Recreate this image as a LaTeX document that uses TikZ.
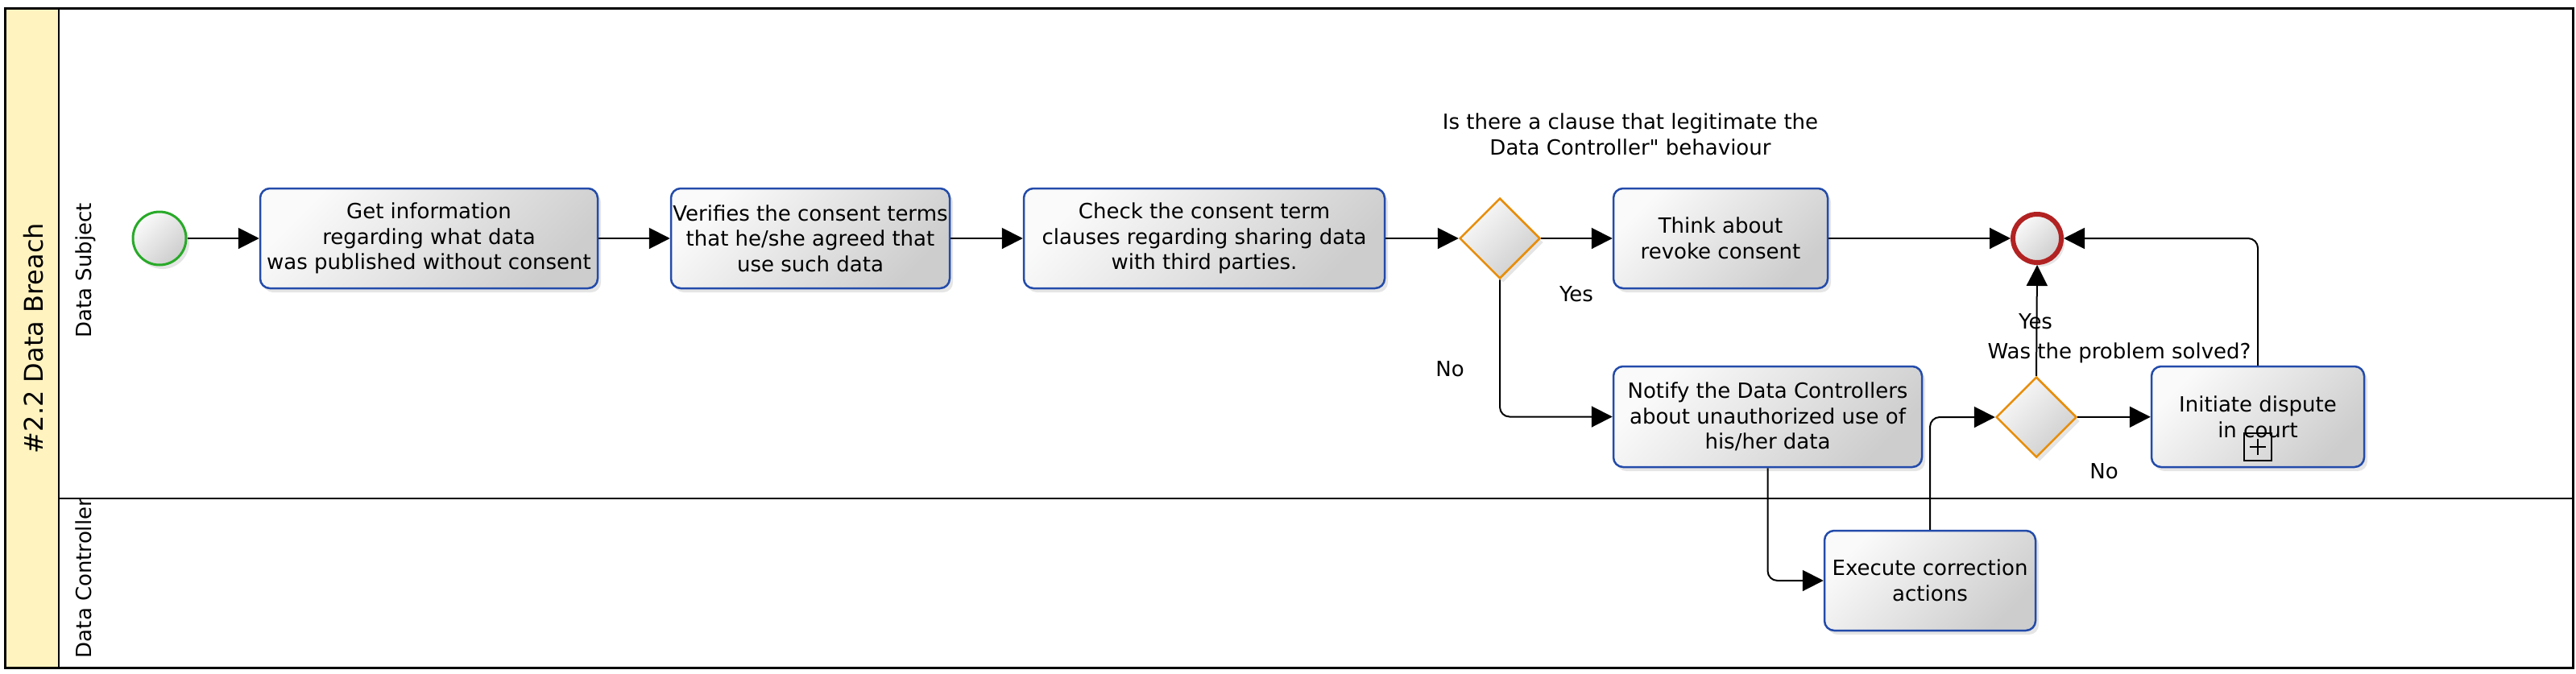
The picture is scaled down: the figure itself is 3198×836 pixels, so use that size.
\documentclass[tikz,border=0pt]{standalone}
\usepackage{fontspec}
\setmainfont{DejaVu Sans}
\usetikzlibrary{arrows.meta,shapes.geometric,shadows,calc}
\definecolor{taskblue}{RGB}{35,75,170}
\definecolor{gworange}{RGB}{232,142,10}
\definecolor{startgreen}{RGB}{40,170,40}
\definecolor{endred}{RGB}{178,34,34}
\definecolor{poolyellow}{RGB}{255,243,192}
\definecolor{fillhi}{RGB}{250,250,250}
\definecolor{filllo}{RGB}{205,205,205}
\newcommand{\txtfont}{\fontsize{26}{31.7}\selectfont}
\newcommand{\titlefont}{\fontsize{32}{36}\selectfont}
\tikzset{
 bpmnfill/.style={top color=fillhi, bottom color=filllo, shading angle=45,
   drop shadow={opacity=0.2, shadow xshift=4pt, shadow yshift=-5pt}},
 task/.style={draw=taskblue, line width=2.5pt, rounded corners=12pt, bpmnfill,
   align=center, inner sep=0pt, font=\txtfont},
 gateway/.style={diamond, draw=gworange, line width=2.5pt, bpmnfill,
   minimum width=100pt, minimum height=100pt, inner sep=0pt},
 startev/.style={circle, draw=startgreen, line width=3pt, bpmnfill, minimum size=66pt, inner sep=0pt},
 endev/.style={circle, draw=endred, line width=6pt, bpmnfill, minimum size=60pt, inner sep=0pt},
 flow/.style={line width=2pt, -{Triangle[length=26pt,width=26pt]}, rounded corners=12pt},
 lbl/.style={font=\txtfont, inner sep=0pt, align=center},
 lanelbl/.style={font=\txtfont, inner sep=0pt, rotate=90, anchor=base},
}
\begin{document}
\begin{tikzpicture}[x=1pt,y=-1pt]
\useasboundingbox (0,0) rectangle (3198,836);
% pool and lanes
\fill[white] (6,10) rectangle (3194,829);
\fill[poolyellow] (6,10) rectangle (73,829);
\draw[line width=3pt] (6,10) rectangle (3194,829);
\draw[line width=2.5pt] (73,10) -- (73,829);
\draw[line width=2.5pt] (73,619) -- (3194,619);
\node[lanelbl, font=\titlefont] (pooltitle) at (53,420) {\#2.2 Data Breach};
\node[lanelbl] (lane1) at (113,336) {Data Subject};
\node[lanelbl] (lane2) at (113,718) {Data Controller};
% flow objects
\node[startev] (start) at (198,296) {};
\node[task, minimum width=419pt, minimum height=124pt] (t1) at (532.5,296)
  {Get information\\regarding what data\\was published without consent};
\node[task, minimum width=346pt, minimum height=124pt] (t2) at (1006,296)
  {Verifies the consent terms\\that he/she agreed that\\use such data};
\node[task, minimum width=448pt, minimum height=124pt] (t3) at (1495,296)
  {Check the consent term\\clauses regarding sharing data\\with third parties.};
\node[gateway] (g1) at (1862,296) {};
\node[task, minimum width=266pt, minimum height=124pt] (t4) at (2136,296)
  {Think about\\revoke consent};
\node[endev] (end) at (2529,296) {};
\node[task, minimum width=383pt, minimum height=125pt] (t5) at (2194.5,517.5)
  {Notify the Data Controllers\\about unauthorized use of\\his/her data};
\node[gateway] (g2) at (2528,518) {};
\node[task, minimum width=264pt, minimum height=125pt] (t6) at (2803,517.5)
  {Initiate dispute\\in court};
\node[task, minimum width=262pt, minimum height=124pt] (t7) at (2396,721)
  {Execute correction\\actions};
% sub-process marker
\draw[line width=1.8pt] ($(t6.south)+(-17,-43)$) rectangle ($(t6.south)+(17,-9)$);
\draw[line width=1.8pt] ($(t6.south)+(-10,-26)$) -- ($(t6.south)+(10,-26)$);
\draw[line width=1.8pt] ($(t6.south)+(0,-36)$) -- ($(t6.south)+(0,-16)$);
% labels
\node[lbl] (g1lbl) at (2024,167) {Is there a clause that legitimate the\\Data Controller\textquotedbl{} behaviour};
\node[lbl] (yes1) at (1957,365) {Yes};
\node[lbl] (no1) at (1800,458) {No};
\node[lbl] (yes2) at (2527,399) {Yes};
\node[lbl] (g2lbl) at (2631,438) {Was the problem solved?};
\node[lbl] (no2) at (2612,585) {No};
% sequence flows
\draw[flow] (start) -- (t1);
\draw[flow] (t1) -- (t2);
\draw[flow] (t2) -- (t3);
\draw[flow] (t3) -- (g1);
\draw[flow] (g1) -- (t4);
\draw[flow] (t4) -- (end);
\draw[flow] (g1.south) |- (t5.west);
\draw[flow] (t5.south) |- (t7.west);
\draw[flow] (t7.north) |- (g2.west);
\draw[flow] (g2.north) -- (end.south);
\draw[flow] (g2) -- (t6);
\draw[flow] (t6.north) |- (end.east);
\end{tikzpicture}
\end{document}
